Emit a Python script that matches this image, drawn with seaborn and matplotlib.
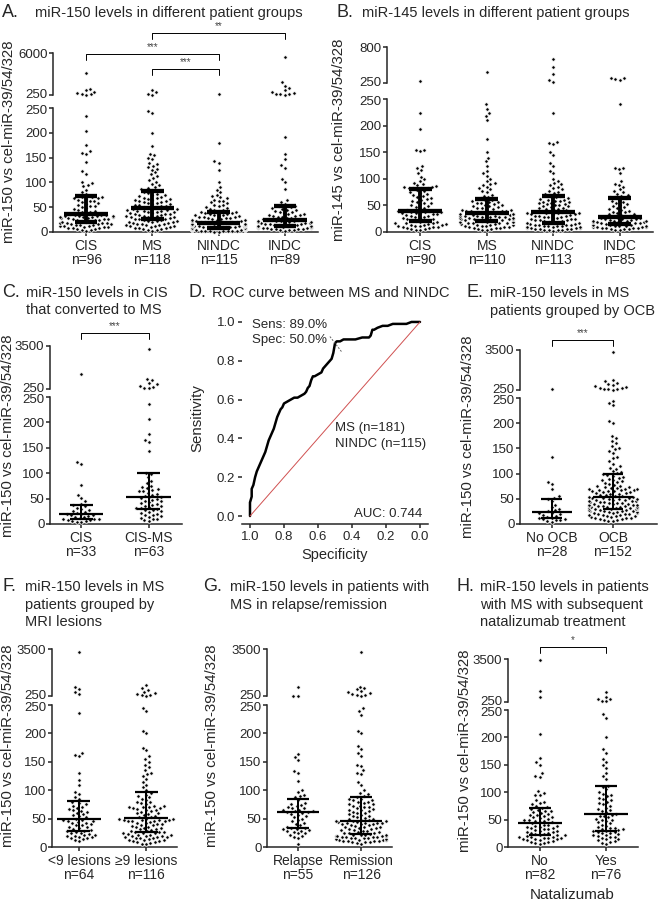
import numpy as np
import pandas as pd
import matplotlib
matplotlib.use('Agg')
import matplotlib.pyplot as plt
import seaborn as sns
from matplotlib.transforms import blended_transform_factory, ScaledTranslation

sns.set_style('ticks')
plt.rcParams['font.family'] = ['Liberation Sans', 'DejaVu Sans']
plt.rcParams['axes.linewidth'] = 1.1

# A: miR-150, 4 patient groups
a_cis = [3,4,5,6,7,8,8,9,10,10,11,12,12,13,14,15,15,16,17,17,18,18,19,19,
         21,21,22,23,24,24,25,26,27,27,28,29,29,30,30,31,31,32,32,33,33,34,34,35,
         36,38,40,41,43,45,46,48,50,52,53,55,57,58,60,62,63,65,66,68,69,70,70,71,
         76,80,85,92,95,98,100,117,122,141,158,160,163,175,204,234,300,350,400,500,700,900,1100,3300]
a_ms = [3,4,5,6,7,8,8,9,10,11,12,12,13,14,14,15,16,17,17,18,19,20,20,21,22,23,23,24,25,
        26,27,27,28,29,30,30,31,32,33,33,34,35,36,36,37,38,39,40,40,41,42,43,43,44,45,46,46,47,48,
        49,50,51,52,53,54,55,56,57,58,59,60,61,62,63,64,65,66,67,68,69,70,72,74,75,77,78,80,82,
        84,86,88,91,94,97,100,104,108,112,116,120,125,128,131,134,137,140,147,150,
        155,158,173,200,240,244,300,400,600,900]
a_nindc = [1,1,2,2,2,3,3,3,3,4,4,4,4,5,5,5,5,6,6,6,6,7,7,7,7,8,8,8,8,
           9,9,9,10,10,10,11,11,11,12,12,12,13,13,13,14,14,14,15,15,15,16,16,16,17,17,17,18,
           19,19,20,20,21,21,22,23,23,24,25,25,26,27,28,28,29,30,31,31,32,33,34,35,35,36,37,38,39,
           40,41,42,44,45,46,48,50,52,54,55,58,60,62,63,65,68,70,72,75,80,85,90,100,125,140,143,179,350]
a_indc = [3,4,5,5,6,6,7,7,8,8,9,9,9,10,10,10,11,11,11,12,12,12,13,
          14,14,15,15,16,17,17,18,18,19,20,20,21,21,22,22,23,23,24,24,25,25,
          27,28,29,30,31,32,33,34,35,36,37,38,40,41,42,44,45,47,48,50,52,53,
          57,60,65,86,100,107,130,135,148,157,192,290,320,380,450,550,700,900,1200,1500,2000,5500]

# B: miR-145, 4 patient groups
b_cis = [3,4,5,6,7,8,9,10,10,11,12,12,13,14,14,15,15,16,17,17,18,19,20,
         21,22,23,24,25,26,27,28,29,30,31,32,33,34,35,35,36,37,37,38,39,39,
         41,43,45,47,49,50,52,54,55,57,59,60,62,64,65,67,69,71,73,75,77,79,
         82,82,83,83,84,85,86,88,90,93,96,99,104,110,116,120,124,152,154,155,193,224,285]
b_ms = [3,4,5,6,7,8,8,9,10,10,11,12,12,13,13,14,15,15,16,16,17,17,18,18,19,19,20,
        21,22,22,23,23,24,24,25,25,26,26,27,27,28,28,29,29,30,30,31,31,32,32,33,33,34,34,35,
        37,37,38,38,39,39,40,40,41,42,43,44,45,46,47,48,49,50,51,52,54,55,56,57,58,60,61,
        63,65,68,70,75,77,80,82,85,88,90,92,95,100,105,110,115,125,133,140,150,174,210,218,
        224,232,240,414]
b_nindc = [2,3,3,4,4,5,5,6,6,7,7,8,8,9,9,10,10,11,11,12,12,13,13,14,14,15,15,16,
           17,18,19,19,20,21,22,22,23,24,25,25,26,27,28,28,29,30,31,31,32,33,34,34,35,35,36,36,
           38,39,40,41,42,43,44,45,46,47,48,49,50,51,52,53,54,55,56,57,58,59,60,61,62,63,64,66,67,
           70,72,74,75,78,80,83,85,88,90,92,95,100,110,115,125,130,145,150,165,168,170,223,
           270,300,390,500,620]
b_indc = [3,4,5,5,6,7,7,8,8,9,9,10,10,11,11,12,12,13,13,14,14,
          15,16,16,17,17,18,18,19,19,20,20,21,21,22,23,24,24,25,26,27,27,28,
          30,31,32,33,34,36,37,38,40,41,43,45,47,49,51,53,55,57,59,61,63,
          65,66,68,70,72,75,78,80,85,88,90,95,110,118,120,120,240,300,310,320,330]

# C: CIS vs CIS converting to MS
c_cis = [3,4,5,6,7,8,9,9,10,11,13,14,16,17,18,19,20,22,24,26,28,30,32,35,37,
         40,45,52,58,76,118,122,1360]
c_cisms = [5,7,9,10,12,14,15,17,18,20,22,24,25,27,28,30,
           31,32,33,35,36,38,40,41,43,45,46,48,50,51,53,54,
           56,58,60,62,64,65,67,68,70,72,75,80,85,92,99,
           101,143,162,165,178,207,237,300,350,400,500,600,700,900,1000,3250]

# D: ROC curve MS vs NINDC
roc_spec = [1.00,1.00,0.99,0.99,0.98,0.97,0.96,0.95,0.94,0.93,0.92,0.91,0.90,0.89,0.88,
            0.87,0.86,0.85,0.84,0.83,0.82,0.81,0.80,0.78,0.76,0.74,0.72,0.70,0.68,0.67,
            0.66,0.65,0.64,0.63,0.62,0.60,0.58,0.57,0.56,0.55,0.54,0.53,0.52,0.51,0.50,
            0.49,0.47,0.45,0.42,0.38,0.34,0.30,0.29,0.28,0.27,0.25,0.22,0.19,0.16,0.12,
            0.08,0.05,0.03,0.00]
roc_sens = [0.00,0.07,0.10,0.14,0.16,0.20,0.23,0.25,0.27,0.29,0.31,0.33,0.36,0.39,0.41,
            0.43,0.45,0.48,0.51,0.53,0.55,0.56,0.58,0.59,0.60,0.61,0.61,0.62,0.63,0.64,
            0.66,0.67,0.70,0.72,0.72,0.73,0.74,0.76,0.77,0.78,0.79,0.80,0.81,0.84,0.89,
            0.90,0.90,0.91,0.91,0.91,0.92,0.92,0.93,0.96,0.96,0.97,0.98,0.98,0.99,0.99,
            0.99,1.00,1.00,1.00]
chance = [0, 1]

# E: MS by OCB status
e_no = [3,5,7,8,9,10,11,12,14,16,18,19,21,22,25,27,30,33,38,45,50,52,55,70,79,84,133,300]
e_ocb = [5,6,7,8,9,10,11,12,12,13,14,15,15,16,17,18,18,19,20,20,21,22,22,23,23,24,25,25,26,26,27,27,28,28,29,29,30,30,
         31,31,32,32,33,33,34,34,35,35,36,36,37,38,38,39,40,40,41,42,42,43,44,44,45,46,46,47,48,48,49,50,50,51,52,52,53,53,
         55,56,57,58,59,60,61,62,63,64,65,65,66,67,68,68,69,70,70,71,72,73,74,75,76,78,80,82,84,85,87,88,90,92,94,96,98,99,
         101,103,105,110,112,115,120,125,130,133,140,145,148,150,155,160,165,170,175,200,205,236,240,245,
         280,300,320,350,400,450,500,550,650,700,850,950,1050,3350]

# F: MS by MRI lesions
f_lt9 = [10,12,14,15,16,17,18,19,20,21,22,23,24,25,27,28,
         29,30,32,33,35,36,38,39,40,42,43,44,45,46,47,48,
         50,52,54,56,58,60,62,64,65,67,69,71,73,75,77,80,
         85,88,93,97,110,118,130,160,162,165,236,400,500,700,850,3270]
f_ge9 = [5,6,7,8,9,10,11,12,13,13,14,15,16,16,17,18,18,19,20,20,21,22,22,23,24,24,25,26,26,
         27,28,29,30,31,32,33,34,35,36,37,38,39,40,41,42,43,44,45,45,46,46,47,47,48,48,49,50,50,
         52,53,55,56,58,59,60,62,63,65,66,67,68,69,70,70,71,72,73,75,77,79,80,83,85,88,90,92,95,
         100,105,110,115,120,125,128,130,135,140,145,150,155,160,170,175,200,205,240,245,
         280,300,350,400,450,550,650,800,1000]

# G: MS in relapse / remission
g_rel = [5,16,18,20,22,24,25,27,28,29,30,31,32,33,
         34,36,38,40,42,45,48,50,52,55,57,58,60,61,
         62,63,64,65,66,68,69,70,72,74,76,78,82,
         88,90,92,97,100,117,130,133,153,158,163,270,280,900]
g_rem = [6,7,8,8,9,10,10,11,11,12,12,13,13,14,14,15,15,16,16,17,17,18,18,19,19,20,20,21,21,22,22,
         23,24,25,25,26,27,28,29,30,30,31,32,33,34,35,35,36,37,38,39,40,40,41,42,42,43,43,44,44,45,45,46,
         47,48,49,50,51,52,54,55,56,58,59,60,62,63,65,66,67,68,70,71,72,73,75,76,78,79,80,82,83,84,85,
         88,90,93,95,100,110,115,128,130,135,142,145,160,165,172,178,200,205,233,240,245,
         280,300,350,400,450,500,600,700,800,900,3270]

# H: MS with / without subsequent natalizumab
h_no = [5,7,8,9,10,11,12,13,14,15,15,16,17,17,18,19,19,20,21,21,
        22,23,24,25,26,27,28,29,30,31,32,33,34,35,36,37,38,39,40,41,43,
        45,46,47,48,49,50,52,53,54,55,56,58,59,60,62,63,65,66,68,70,
        72,73,75,78,80,82,85,95,95,98,102,128,130,135,150,155,163,206,600,1100,3400]
h_yes = [6,8,10,11,12,14,15,17,18,19,20,21,22,23,25,26,27,28,29,
         30,31,32,33,34,35,37,39,41,43,45,47,49,50,52,54,56,57,59,
         61,63,65,67,70,72,75,78,80,83,85,88,90,93,95,97,100,105,110,
         112,125,130,135,145,150,155,160,172,178,200,236,242,300,350,450,500,650,1000]

W, H = 658, 902
fig = plt.figure(figsize=(W / 100, H / 100), dpi=100)


def box(x0, y0, x1, y1):
    return fig.add_axes([x0 / W, 1 - y1 / H, (x1 - x0) / W, (y1 - y0) / H])


def nudge(label, dy):
    # small vertical shift (points) so the two "250" labels at the break don't collide
    label.set_transform(label.get_transform() + ScaledTranslation(0, dy / 72, fig.dpi_scale_trans))


def dot_panel(lo, hi, names, groups, ymax, xlim, lw):
    ax_lo, ax_hi = box(*lo), box(*hi)
    df = pd.DataFrame({'g': np.repeat(names, [len(v) for v in groups]),
                       'v': np.concatenate(groups)})
    for ax, part, lim in ((ax_lo, df[df.v <= 250], (0, 250)),
                          (ax_hi, df[df.v > 250], (250, ymax))):
        sns.swarmplot(data=part, x='g', y='v', order=names, ax=ax, color='black',
                      size=2.5, linewidth=0.6, edgecolor='white', warn_thresh=1,
                      clip_on=False)
        ax.set_xlim(*xlim)
        ax.set_ylim(*lim)
        ax.set_xlabel('')
        ax.set_ylabel('')
        sns.despine(ax=ax)
        ax.tick_params(axis='y', labelsize=9.5, length=3, width=1.1, pad=1)
    # median with interquartile range
    for i, v in enumerate(groups):
        q1, med, q3 = np.percentile(v, [25, 50, 75])
        ax_lo.hlines(med, i - 0.33, i + 0.33, color='black', lw=lw, zorder=4)
        ax_lo.hlines([q1, q3], i - 0.17, i + 0.17, color='black', lw=lw, zorder=4)
        ax_lo.vlines(i, q1, q3, color='black', lw=lw * 0.9, zorder=4)
    ax_lo.set_yticks([0, 50, 100, 150, 200, 250])
    ax_lo.set_xticks(range(len(names)))
    ax_lo.set_xticklabels([f'{n}\nn={len(v)}' for n, v in zip(names, groups)],
                          fontsize=10, linespacing=1.0)
    ax_lo.tick_params(axis='x', length=3, width=1.1, pad=2)
    ax_hi.set_yticks([250, ymax])
    ax_hi.set_yticklabels(['250', str(ymax)])
    ax_hi.spines['bottom'].set_visible(False)
    ax_hi.tick_params(axis='x', bottom=False, labelbottom=False)
    nudge(ax_hi.get_yticklabels()[0], 1.2)
    nudge(ax_lo.get_yticklabels()[-1], -1.2)
    return ax_lo, ax_hi


def bracket(ax, i0, i1, ypx, stars, drop=6):
    tr = blended_transform_factory(ax.transData, fig.transFigure)
    y, y2 = 1 - ypx / H, 1 - (ypx + drop) / H
    ax.plot([i0, i0, i1, i1], [y2, y, y, y2], transform=tr, color='black',
            lw=0.7, clip_on=False)
    ax.text((i0 + i1) / 2, 1 - (ypx - 7) / H, stars, transform=tr, ha='center',
            va='center', fontsize=7, color='#444444')


def title(xl, xt, ypx, letter, lines):
    fig.text(xl / W, 1 - ypx / H, letter, fontsize=13, va='baseline')
    for k, line in enumerate(lines):
        fig.text(xt / W, 1 - (ypx + k * 17.5) / H, line, fontsize=10.5, va='baseline')


def ylab(x, y, text):
    fig.text(x / W, 1 - y / H, text, rotation=90, ha='center', va='center', fontsize=10.8)


ylabel150 = 'miR-150 vs cel-miR-39/54/328'
four = ['CIS', 'MS', 'NINDC', 'INDC']

# Row 1
lo, hi = dot_panel((53, 108, 318, 232), (53, 53, 318, 95), four,
                   [a_cis, a_ms, a_nindc, a_indc], 6000, (-0.5, 3.5), 3.1)
bracket(hi, 0, 2, 54, '***')
bracket(hi, 1, 2, 69, '***')
bracket(hi, 1, 3, 33, '**')
title(2, 35, 17, 'A.', ['miR-150 levels in different patient groups'])
ylab(9, 142, ylabel150)

lo, hi = dot_panel((387, 99, 653, 232), (387, 47, 653, 83), four,
                   [b_cis, b_ms, b_nindc, b_indc], 800, (-0.5, 3.5), 3.1)
title(337, 362, 17, 'B.', ['miR-145 levels in different patient groups'])
ylab(339, 140, 'miR-145 vs cel-miR-39/54/328')

# Row 2
lo, hi = dot_panel((50, 397, 182, 524), (50, 346, 182, 389), ['CIS', 'CIS-MS'],
                   [c_cis, c_cisms], 3500, (-0.46, 1.49), 1.6)
bracket(hi, 0, 1, 333, '***')
title(2, 26, 297, 'C.', ['miR-150 levels in CIS', 'that converted to MS'])
ylab(8, 436, ylabel150)

axd = box(242, 314, 428, 524)
sns.lineplot(x=roc_spec, y=roc_sens, sort=False, estimator=None, color='black',
             lw=1.8, ax=axd)
axd.plot([chance[1], chance[0]], chance, color='#d05050', lw=0.7)
axd.plot([0.53, 0.46], [0.925, 0.845], color='#666666', lw=0.7, ls=(0, (2, 1.5)))
axd.set_xlim(1.047, -0.047)
axd.set_ylim(-0.041, 1.041)
axd.set_xticks([1.0, 0.8, 0.6, 0.4, 0.2, 0.0])
axd.set_xticklabels(['1.0', '0.8', '0.6', '0.4', '0.2', '0.0'])
axd.set_yticks([0.0, 0.2, 0.4, 0.6, 0.8, 1.0])
axd.set_yticklabels(['0.0', '0.2', '0.4', '0.6', '0.8', '1.0'])
axd.tick_params(labelsize=9.5, length=3, width=1.1, pad=2)
sns.despine(ax=axd, left=True)
axd.text(0.99, 0.985, 'Sens: 89.0%', fontsize=9.5, va='center')
axd.text(0.99, 0.905, 'Spec: 50.0%', fontsize=9.5, va='center')
axd.text(0.50, 0.455, 'MS (n=181)', fontsize=9.5, va='center')
axd.text(0.50, 0.372, 'NINDC (n=115)', fontsize=9.5, va='center')
axd.text(-0.015, 0.012, 'AUC: 0.744', fontsize=9.5, va='center', ha='right')
fig.text(335 / W, 1 - 555 / H, 'Specificity', ha='center', va='center', fontsize=10.5)
ylab(197, 418, 'Sensitivity')
title(188, 212, 297, 'D.', ['ROC curve between MS and NINDC'])

lo, hi = dot_panel((520, 398, 657, 524), (520, 350, 657, 390), ['No OCB', 'OCB'],
                   [e_no, e_ocb], 3500, (-0.52, 1.72), 1.6)
bracket(hi, 0, 1, 340, '***')
title(467, 490, 297, 'E.', ['miR-150 levels in MS', 'patients grouped by OCB'])
ylab(468, 437, ylabel150)

# Row 3
lo, hi = dot_panel((52, 705, 177, 847), (52, 649, 177, 696), ['<9 lesions', '≥9 lesions'],
                   [f_lt9, f_ge9], 3500, (-0.4, 1.46), 1.6)
title(2, 25, 591, 'F.', ['miR-150 levels in MS', 'patients grouped by', 'MRI lesions'])
ylab(8, 746, ylabel150)

lo, hi = dot_panel((267, 705, 392, 847), (267, 649, 392, 696), ['Relapse', 'Remission'],
                   [g_rel, g_rem], 3500, (-0.49, 1.49), 1.6)
title(203, 230, 591, 'G.', ['miR-150 levels in patients with', 'MS in relapse/remission'])
ylab(212, 746, ylabel150)

lo, hi = dot_panel((508, 710, 638, 847), (508, 659, 638, 702), ['No', 'Yes'],
                   [h_no, h_yes], 3500, (-0.48, 1.48), 1.6)
bracket(hi, 0, 1, 647, '*')
title(457, 480, 591, 'H.', ['miR-150 levels in patients', 'with MS with subsequent',
                            'natalizumab treatment'])
ylab(465, 751, ylabel150)
fig.text(572 / W, 1 - 895 / H, 'Natalizumab', ha='center', va='center', fontsize=11)

fig.savefig('out.png', dpi=100)
